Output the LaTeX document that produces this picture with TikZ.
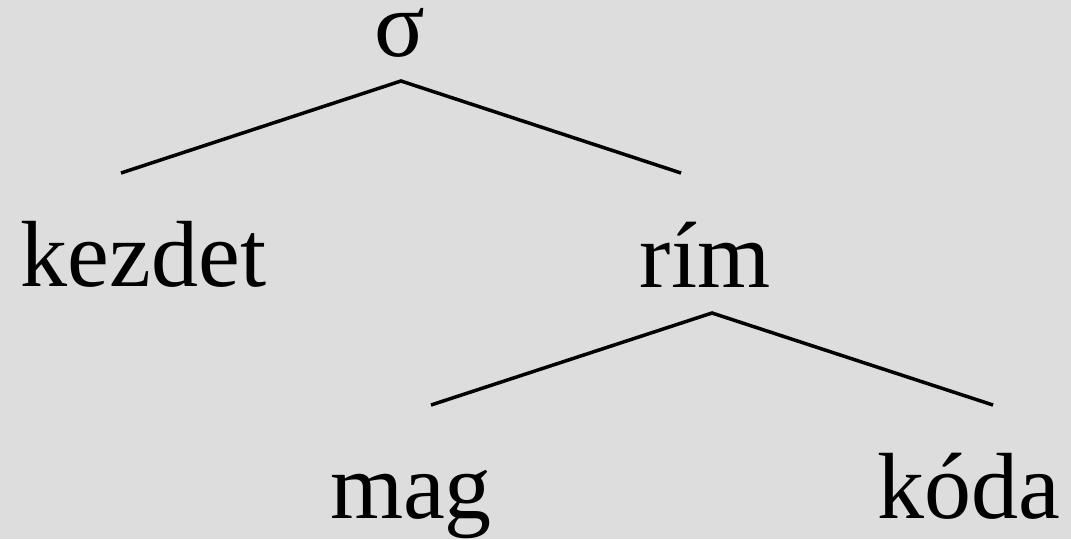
\documentclass[tikz,border=0pt]{standalone}
\usepackage{fontspec}
\setmainfont{Liberation Serif}
\definecolor{bg}{RGB}{221,221,221}
\begin{document}
\begin{tikzpicture}[x=1pt,y=-1pt,
  lbl/.style={inner sep=0pt,anchor=base,font=\fontsize{94}{100}\selectfont},
  edge/.style={line width=3.5pt}]
\fill[bg] (0,0) rectangle (1071,539);
\useasboundingbox (0,0) rectangle (1071,539);
\node[lbl,text height=45pt,text depth=0pt] (sigma) at (400,56) {σ};
\node[lbl] (kezdet) at (143.5,286) {kezdet};
\node[lbl] (rim) at (705,287) {rím};
\node[lbl] (mag) at (411,518) {mag};
\node[lbl] (koda) at (968.5,518) {kóda};
\coordinate (sTop) at (401,81);
\coordinate (kEnd) at (121,173);
\coordinate (rEnd) at (681,173);
\coordinate (rTop) at (712,313);
\coordinate (mEnd) at (431,405);
\coordinate (cEnd) at (993,405);
\draw[edge] (kEnd) -- (sTop) -- (rEnd);
\draw[edge] (mEnd) -- (rTop) -- (cEnd);
\end{tikzpicture}
\end{document}
